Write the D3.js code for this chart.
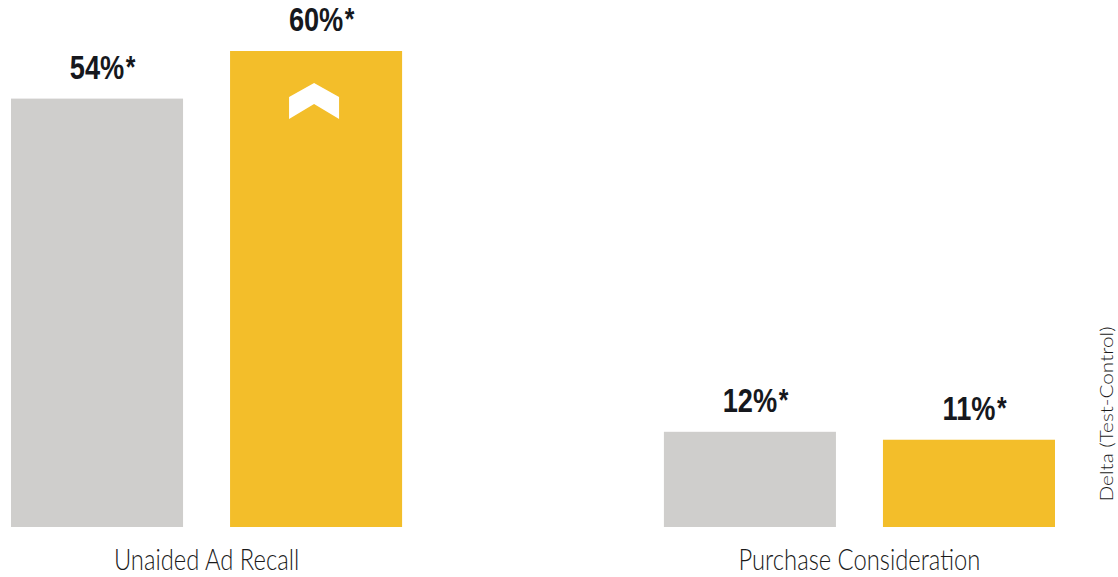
<!DOCTYPE html>
<html>
<head>
<meta charset="utf-8">
<script src="https://cdn.jsdelivr.net/npm/d3@7/dist/d3.min.js"></script>
<style>
  html, body { margin: 0; padding: 0; background: #ffffff; }
  svg { display: block; }
  .val { font-family: "Liberation Sans", Arial, sans-serif; font-weight: 700; fill: #16181d; }
  .cat { font-family: "Lato", "Open Sans", sans-serif; font-weight: 300; fill: #1a1a1a; }
  .axis-title { font-family: "Lato", "Open Sans", sans-serif; font-weight: 300; fill: #1a1a1a; }
</style>
</head>
<body>
<svg id="chart" width="1118" height="577"></svg>
<script>
// Metrics and series
const categories = ["Unaided Ad Recall", "Purchase Consideration"];
const seriesNames = ["Control", "Test"];
const controlValues = [54, 12];
const testValues = [60, 11];
const valueLabels = [["54%", "60%"], ["12%", "11%"]];
const liftFlags = [[false, true], [false, false]];

const colors = { Control: "#cfcecc", Test: "#f3be2a" };

const width = 1118, height = 577;
const svg = d3.select("#chart");

// Squeeze a text horizontally to mimic a condensed face
function condense(sel, factor) {
  sel.each(function() {
    const w = this.getComputedTextLength();
    d3.select(this)
      .attr("textLength", w * factor)
      .attr("lengthAdjust", "spacingAndGlyphs");
  });
}

const rows = categories.map((c, i) => ({
  category: c,
  bars: seriesNames.map((s, j) => ({
    series: s,
    value: j === 0 ? controlValues[i] : testValues[i],
    label: valueLabels[i][j],
    lift: liftFlags[i][j]
  }))
}));

const x0 = d3.scaleBand()
  .domain(categories)
  .range([11, 1055])
  .paddingInner(0.401)
  .paddingOuter(0);

const x1 = d3.scaleBand()
  .domain(seriesNames)
  .range([0, x0.bandwidth()])
  .paddingInner(0.2146)
  .paddingOuter(0);

const y = d3.scaleLinear()
  .domain([0, 60])
  .range([527, 51]);

const groups = svg.selectAll("g.group")
  .data(rows)
  .join("g")
  .attr("class", "group")
  .attr("transform", d => `translate(${x0(d.category)},0)`);

const bar = groups.selectAll("g.bar")
  .data(d => d.bars)
  .join("g")
  .attr("class", "bar");

bar.append("rect")
  .attr("x", d => x1(d.series))
  .attr("y", d => y(d.value))
  .attr("width", x1.bandwidth())
  .attr("height", d => y(0) - y(d.value))
  .attr("fill", d => colors[d.series]);

// Value label: the number is centred on the bar, the asterisk trails it as a superscript.
// The whole label is squeezed horizontally for a condensed look.
const labelScaleX = 0.8;
bar.each(function(d) {
  const cx = x1(d.series) + x1.bandwidth() / 2;
  const base = y(d.value) - 20;
  const g = d3.select(this).append("g")
    .attr("transform", `translate(${cx},${base}) scale(${labelScaleX},1)`);
  const t = g.append("text")
    .attr("class", "val")
    .attr("font-size", 34);
  const num = t.append("tspan").text(d.label);
  const w = num.node().getComputedTextLength();
  t.attr("x", -w / 2);
  t.append("tspan")
    .attr("dx", 2)
    .attr("dy", -1)
    .attr("font-size", 31)
    .text("*");
});

// Upward chevron marking the lift on the test bar
bar.filter(d => d.lift)
  .append("path")
  .attr("fill", "#ffffff")
  .attr("d", d => {
    const cx = x1(d.series) + x1.bandwidth() / 2 - 2;
    const t = y(d.value);
    const hw = 25;
    return `M${cx - hw},${t + 46} L${cx},${t + 32} L${cx + hw},${t + 46} ` +
           `L${cx + hw},${t + 68} L${cx},${t + 53} L${cx - hw},${t + 68} Z`;
  });

// Category labels under each group
const cats = svg.selectAll("text.cat")
  .data(categories)
  .join("text")
  .attr("class", "cat")
  .attr("x", d => x0(d) + x0.bandwidth() / 2)
  .attr("y", 570)
  .attr("text-anchor", "middle")
  .attr("font-size", 29)
  .text(d => d);
condense(cats, 0.82);

// Vertical axis title on the right edge
const title = svg.append("text")
  .attr("class", "axis-title")
  .attr("transform", "translate(1113,414) rotate(-90)")
  .attr("text-anchor", "middle")
  .attr("font-size", 18)
  .text("Delta (Test-Control)");
title.attr("textLength", 175).attr("lengthAdjust", "spacingAndGlyphs");
</script>
</body>
</html>
